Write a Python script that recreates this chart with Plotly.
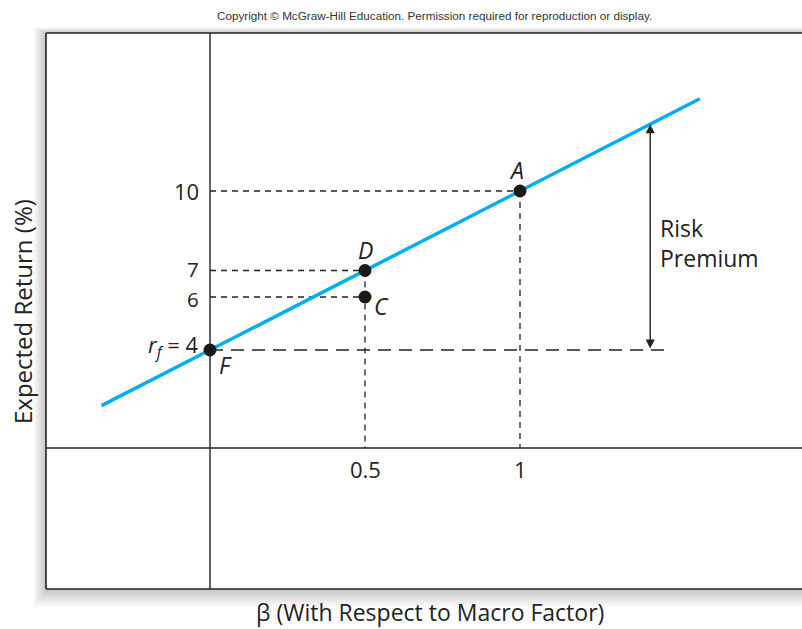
import plotly.graph_objects as go

# ---- data ----
point_labels = ["F", "D", "C", "A"]
point_beta = [0.0, 0.5, 0.5, 1.0]
point_return = [4, 7, 6, 10]
sml_beta = [-0.35, 1.58]
sml_return = [1.9, 13.48]
rf = 4
y_tick_vals = [10, 7, 6]
y_tick_text = ["10", "7", "6"]
x_tick_vals = [0.5, 1]
x_tick_text = ["0.5", "1"]
premium_beta = 1.42
premium_top = 12.52
rf_line_end = 1.47
x_axis_level = 0.3

FONT = "Open Sans, Lato, sans-serif"
W, H = 802, 629
L, R, T, B = 46, 0, 33, 40
PW, PH = W - L - R, H - T - B

def px(xp):
    return (xp - L) / PW

def py(yp):
    return (H - B - yp) / PH

fig = go.Figure()

fig.add_trace(go.Scatter(x=sml_beta, y=sml_return, mode="lines",
                         line=dict(color="#00AEEF", width=3.5),
                         hoverinfo="skip", showlegend=False))
fig.add_trace(go.Scatter(x=point_beta, y=point_return, mode="markers",
                         marker=dict(color="#1a1a1a", size=13),
                         hoverinfo="skip", showlegend=False))

shapes = []
# shadow
for k in range(1, 15):
    shapes.append(dict(type="rect", xref="paper", yref="paper",
                       x0=px(L - k * 0.9), x1=px(W + 5), y0=py(589 + k * 1.3), y1=py(33 - k * 0.4),
                       fillcolor="rgba(0,0,0,0.017)", line=dict(width=0), layer="below"))
# white interior
shapes.append(dict(type="rect", xref="paper", yref="paper", x0=0, x1=1.01, y0=0, y1=1,
                   fillcolor="white", line=dict(width=0), layer="below"))
# frame
frame = dict(color="#222222", width=1.6)
shapes.append(dict(type="line", xref="paper", yref="paper", x0=0, x1=0, y0=0, y1=1, line=frame, layer="below"))
shapes.append(dict(type="line", xref="paper", yref="paper", x0=0, x1=1, y0=1, y1=1, line=frame, layer="below"))
shapes.append(dict(type="line", xref="paper", yref="paper", x0=0, x1=1, y0=0, y1=0, line=frame, layer="below"))
# axes
ax = dict(color="#222222", width=1.4)
shapes.append(dict(type="line", xref="x", yref="paper", x0=0, x1=0, y0=0, y1=1, line=ax, layer="below"))
shapes.append(dict(type="line", xref="paper", yref="y", x0=0, x1=1, y0=x_axis_level, y1=x_axis_level, line=ax, layer="below"))

# dashed guides
dash = dict(color="#222222", width=1.3, dash="6px,5px")
top_at_beta = {}
for b, r in zip(point_beta, point_return):
    if b > 0:
        shapes.append(dict(type="line", xref="x", yref="y", x0=0, x1=b, y0=r, y1=r, line=dash, layer="below"))
        top_at_beta[b] = max(r, top_at_beta.get(b, r))
for b, r in top_at_beta.items():
    shapes.append(dict(type="line", xref="x", yref="y", x0=b, x1=b, y0=r, y1=x_axis_level, line=dash, layer="below"))
shapes.append(dict(type="line", xref="x", yref="y", x0=0, x1=rf_line_end, y0=rf, y1=rf,
                   line=dict(color="#222222", width=1.3, dash="13px,8px"), layer="below"))

annotations = []
tick_font = dict(family=FONT, size=22, color="#222222")
small_tick_font = dict(family=FONT, size=20.5, color="#222222")
tick_nudge = {"10": 0, "7": 1.5, "6": -1.5}
for v, t in zip(y_tick_vals, y_tick_text):
    annotations.append(dict(x=0, y=v, xref="x", yref="y", text=t, showarrow=False,
                            xanchor="right", yanchor="middle", xshift=-9, yshift=tick_nudge[t],
                            font=tick_font if t == "10" else small_tick_font))
annotations.append(dict(x=0, y=rf, xref="x", yref="y", text="<i>r</i><sub><i>f</i></sub> = 4", showarrow=False,
                        xanchor="right", yanchor="middle", xshift=-9, yshift=4, font=tick_font))
for v, t in zip(x_tick_vals, x_tick_text):
    annotations.append(dict(x=v, y=x_axis_level, xref="x", yref="y", text=t, showarrow=False,
                            xanchor="center", yanchor="top", yshift=-4, font=tick_font))

lab_font = dict(family=FONT, size=23, color="#222222")
offsets = {"F": (15, -15), "D": (0, 21), "C": (16, -9), "A": (-4, 21)}
for lab, b, r in zip(point_labels, point_beta, point_return):
    dx, dy = offsets[lab]
    annotations.append(dict(x=b, y=r, xref="x", yref="y", text="<i>" + lab + "</i>", showarrow=False,
                            xanchor="center", yanchor="middle", xshift=dx, yshift=dy, font=lab_font))

# risk premium arrow (double-headed)
annotations.append(dict(x=premium_beta, y=premium_top, ax=premium_beta, ay=rf, xref="x", yref="y",
                        axref="x", ayref="y", text="", showarrow=True, arrowhead=2, startarrowhead=2,
                        arrowside="end+start", arrowsize=1.3, arrowwidth=1.4, arrowcolor="#222222",
                        standoff=0, startstandoff=0))
annotations.append(dict(x=premium_beta, y=(rf + premium_top) / 2, xref="x", yref="y",
                        text="Risk<br>Premium", showarrow=False, xanchor="left", yanchor="middle",
                        align="left", xshift=8, yshift=-6, font=dict(family=FONT, size=23, color="#222222")))

# axis titles and copyright
annotations.append(dict(x=px(22), y=py(312), xref="paper", yref="paper", text="Expected Return (%)",
                        showarrow=False, textangle=-90, xanchor="center", yanchor="middle",
                        font=dict(family=FONT, size=24, color="#222222")))
annotations.append(dict(x=px(430), y=py(612), xref="paper", yref="paper",
                        text="β (With Respect to Macro Factor)", showarrow=False,
                        xanchor="center", yanchor="middle",
                        font=dict(family=FONT, size=23, color="#222222")))
annotations.append(dict(x=px(434), y=py(16), xref="paper", yref="paper",
                        text="Copyright © McGraw-Hill Education. Permission required for reproduction or display.",
                        showarrow=False, xanchor="center", yanchor="middle",
                        font=dict(family="Liberation Sans, Arial, sans-serif", size=11.7, color="#333333")))

fig.update_layout(
    width=W, height=H,
    margin=dict(l=L, r=R, t=T, b=B),
    paper_bgcolor="white", plot_bgcolor="rgba(0,0,0,0)",
    xaxis=dict(range=[-164 / 310, 592 / 310], visible=False, fixedrange=True),
    yaxis=dict(range=[4 - 239 / 26.5, 4 + 317 / 26.5], visible=False, fixedrange=True),
    shapes=shapes, annotations=annotations, showlegend=False,
)

fig.write_html("out.html", config={"displayModeBar": False},
               post_script="document.body.style.margin='0';document.body.style.overflow='hidden';")
